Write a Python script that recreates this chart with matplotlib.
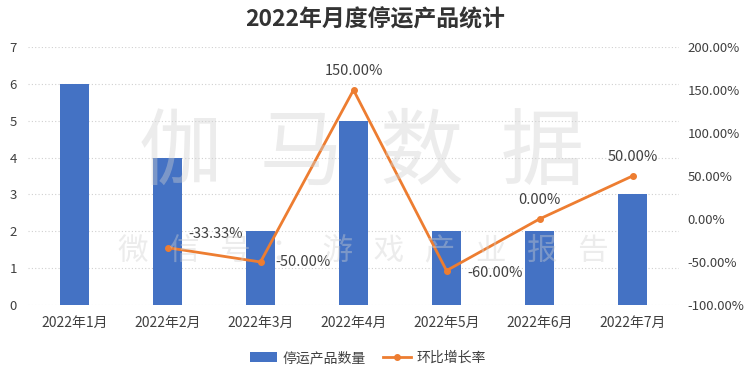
import matplotlib
matplotlib.use('Agg')
import matplotlib.pyplot as plt

plt.rcParams['font.family'] = ['Noto Sans CJK SC', 'DejaVu Sans']

months = ['2022年1月', '2022年2月', '2022年3月', '2022年4月', '2022年5月', '2022年6月', '2022年7月']
stopped = [6, 4, 2, 5, 2, 2, 3]
growth = [None, -33.33, -50.00, 150.00, -60.00, 0.00, 50.00]
growth_labels = ['', '-33.33%', '-50.00%', '150.00%', '-60.00%', '0.00%', '50.00%']

bar_color = '#4472C4'
line_color = '#ED7D31'
text_color = '#404040'

fig = plt.figure(figsize=(7.5, 3.83), dpi=100)
ax = fig.add_axes([28 / 750, 1 - 305 / 383, (679 - 28) / 750, (305 - 47) / 383])
ax2 = ax.twinx()

x = list(range(len(months)))
ax.bar(x, stopped, width=0.31, color=bar_color, zorder=2, label='停运产品数量')
ax.set_xlim(-0.5, len(months) - 0.5)
ax.set_ylim(0, 7)
ax.set_yticks(range(0, 8))
ax.grid(axis='y', linestyle=(0, (1, 2)), color='#d0d0d0', linewidth=0.8, zorder=0)
ax.set_xticks(x)
ax.set_xticklabels(months, fontsize=10, color=text_color)
ax.tick_params(axis='both', length=0, labelsize=9.5, colors=text_color)
ax.tick_params(axis='x', pad=8, labelsize=10)
ax.tick_params(axis='y', pad=8)

gx = [i for i, g in zip(x, growth) if g is not None]
gy = [g for g in growth if g is not None]
ax2.plot(gx, gy, color=line_color, linewidth=2, marker='o', markersize=4, zorder=3,
         label='环比增长率')
ax2.set_ylim(-100, 200)
ax2.set_yticks(range(-100, 201, 50))
ax2.set_yticklabels([f'{v:.2f}%' for v in range(-100, 201, 50)])
ax2.tick_params(axis='y', length=0, labelsize=9.5, colors=text_color, pad=6)

for a in (ax, ax2):
    for s in a.spines.values():
        s.set_visible(False)

# data labels on the line
offsets = {1: (15, 10, 'left'), 2: (11, 0, 'left'), 3: (0, 14, 'center'),
           4: (15, -2, 'left'), 5: (0, 14, 'center'), 6: (0, 14, 'center')}
for i, g in enumerate(growth):
    if g is None:
        continue
    dx, dy, ha = offsets[i]
    ax2.annotate(growth_labels[i], (i, g), xytext=(dx, dy), textcoords='offset points',
                 ha=ha, va='center', fontsize=10.5, color=text_color, zorder=5)

# watermark
fig.text(0.482, 0.6, '伽  马  数  据', fontsize=60, color='#d0d0d0', ha='center', va='center',
         zorder=10, alpha=0.4)
fig.text(0.485, 0.345, '微   信   号   ：   游   戏   产   业   报   告', fontsize=22,
         color='#d0d0d0', ha='center', va='center', zorder=10, alpha=0.4)

fig.suptitle('2022年月度停运产品统计', y=0.978, fontsize=16.5, fontweight='bold',
             color='#333333')

h1, l1 = ax.get_legend_handles_labels()
h2, l2 = ax2.get_legend_handles_labels()
fig.legend(h1 + h2, l1 + l2, loc='center', bbox_to_anchor=(0.49, 0.065), ncol=2,
           frameon=False, fontsize=10, handlelength=2.0, columnspacing=1.2,
           handletextpad=0.4, labelcolor=text_color)

fig.savefig('out.png', dpi=100, facecolor='white')
